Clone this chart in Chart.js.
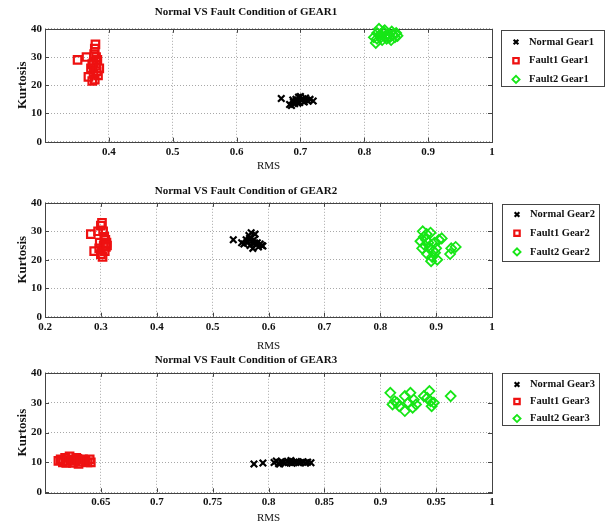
<!DOCTYPE html>
<html>
<head>
<meta charset="utf-8">
<script src="https://cdn.jsdelivr.net/npm/chart.js@4.4.0/dist/chart.umd.min.js"></script>
<style>
  html, body { margin: 0; padding: 0; background: #fff; }
  #wrap { position: relative; width: 606px; height: 525px; overflow: hidden; }
  #wrap canvas { position: absolute; left: 0; }
</style>
</head>
<body>
<div id="wrap">
  <canvas id="gear1" width="606" height="175" style="top:0"></canvas>
  <canvas id="gear2" width="606" height="178" style="top:175px"></canvas>
  <canvas id="gear3" width="606" height="175" style="top:350px"></canvas>
</div>
<script>
// DATA
const kurtTicks = [0, 10, 20, 30, 40];

// GEAR1
const g1RmsTicks = [0.4, 0.5, 0.6, 0.7, 0.8, 0.9, 1];
const g1NormalRms = [0.670, 0.683, 0.686, 0.688, 0.689, 0.691, 0.693, 0.695, 0.696, 0.697, 0.699, 0.700, 0.702, 0.704, 0.706, 0.708, 0.710, 0.712, 0.715, 0.720];
const g1NormalKurt = [15.3, 13.2, 12.8, 14.8, 14.0, 13.5, 15.0, 14.2, 13.6, 15.8, 13.9, 16.0, 14.6, 15.2, 14.1, 15.5, 14.8, 14.3, 15.0, 14.4];
const g1Fault1Rms = [0.351, 0.365, 0.368, 0.372, 0.374, 0.374, 0.376, 0.376, 0.377, 0.378, 0.378, 0.379, 0.380, 0.380, 0.381, 0.382, 0.383, 0.385];
const g1Fault1Kurt = [29.0, 30.0, 23.0, 26.0, 21.5, 27.5, 28.0, 24.0, 31.0, 33.0, 22.0, 34.5, 27.0, 30.0, 25.0, 29.0, 23.5, 26.0];
const g1Fault2Rms = [0.815, 0.818, 0.820, 0.820, 0.823, 0.825, 0.826, 0.828, 0.830, 0.832, 0.833, 0.835, 0.838, 0.840, 0.842, 0.843, 0.845, 0.848, 0.850, 0.852];
const g1Fault2Kurt = [37.0, 35.0, 38.5, 36.5, 40.0, 38.0, 37.0, 36.0, 39.0, 39.5, 37.5, 36.5, 38.0, 37.0, 36.0, 39.0, 38.0, 37.0, 38.5, 37.5];

// GEAR2
const g2RmsTicks = [0.2, 0.3, 0.4, 0.5, 0.6, 0.7, 0.8, 0.9, 1];
const g2NormalRms = [0.537, 0.552, 0.556, 0.560, 0.562, 0.565, 0.566, 0.567, 0.569, 0.570, 0.572, 0.574, 0.575, 0.576, 0.578, 0.580, 0.582, 0.585, 0.588, 0.590];
const g2NormalKurt = [27.0, 26.0, 25.5, 27.0, 26.0, 28.5, 27.5, 25.0, 29.5, 26.5, 24.0, 27.0, 26.0, 29.0, 25.5, 26.0, 24.5, 25.5, 25.0, 24.8];
const g2Fault1Rms = [0.282, 0.288, 0.295, 0.297, 0.298, 0.300, 0.300, 0.302, 0.303, 0.304, 0.305, 0.306, 0.307, 0.308, 0.309, 0.310, 0.311];
const g2Fault1Kurt = [29.0, 23.0, 30.0, 24.0, 26.0, 32.0, 22.0, 33.0, 21.0, 30.0, 25.0, 28.0, 23.0, 27.0, 24.5, 26.0, 25.0];
const g2Fault2Rms = [0.872, 0.875, 0.876, 0.878, 0.880, 0.882, 0.883, 0.884, 0.886, 0.888, 0.890, 0.891, 0.893, 0.895, 0.897, 0.898, 0.900, 0.902, 0.905, 0.910, 0.925, 0.927, 0.935];
const g2Fault2Kurt = [26.5, 24.0, 30.0, 28.0, 25.0, 27.0, 29.0, 22.0, 26.0, 24.0, 29.5, 19.5, 21.0, 23.0, 26.0, 22.5, 24.0, 20.0, 27.0, 27.5, 22.0, 24.0, 24.5];

// GEAR3
const g3RmsTicks = [0.65, 0.7, 0.75, 0.8, 0.85, 0.9, 0.95, 1];
const g3NormalRms = [0.787, 0.795, 0.805, 0.807, 0.809, 0.810, 0.811, 0.813, 0.815, 0.817, 0.819, 0.820, 0.821, 0.823, 0.825, 0.827, 0.829, 0.831, 0.833, 0.835, 0.838];
const g3NormalKurt = [9.5, 9.8, 10.0, 10.5, 9.6, 9.5, 10.2, 10.0, 9.8, 10.4, 10.0, 10.6, 9.7, 10.1, 10.3, 9.9, 10.0, 10.2, 9.8, 10.1, 9.9];
const g3Fault1Rms = [0.612, 0.614, 0.616, 0.618, 0.619, 0.620, 0.622, 0.624, 0.625, 0.627, 0.628, 0.629, 0.630, 0.632, 0.634, 0.636, 0.638, 0.640, 0.641];
const g3Fault1Kurt = [10.5, 11.0, 10.0, 11.5, 9.8, 10.5, 12.0, 11.0, 9.8, 10.5, 11.5, 11.2, 9.5, 10.2, 11.0, 10.5, 10.0, 11.0, 10.0];
const g3Fault2Rms = [0.909, 0.911, 0.913, 0.915, 0.917, 0.922, 0.922, 0.925, 0.927, 0.929, 0.930, 0.932, 0.939, 0.942, 0.944, 0.945, 0.946, 0.948, 0.963];
const g3Fault2Kurt = [33.3, 29.4, 30.5, 30.0, 28.8, 32.2, 27.2, 30.0, 33.3, 28.3, 31.0, 29.4, 32.2, 31.6, 33.9, 30.5, 28.8, 30.0, 32.2];

const SERIF = "'Liberation Serif', 'Times New Roman', serif";

// marker looks, MATLAB-ish
const normalStyle = { pointStyle: "crossRot", pointRadius: 4.6, pointBorderWidth: 2.2, borderColor: "#000", backgroundColor: "#000" };
const fault1Style = { pointStyle: "rect", pointRadius: 5.3, pointBorderWidth: 2.2, borderColor: "#ee1111", backgroundColor: "rgba(0,0,0,0)" };
const fault2Style = { pointStyle: "rectRot", pointRadius: 5, pointBorderWidth: 1.8, borderColor: "#16e616", backgroundColor: "rgba(0,0,0,0)" };

function points(xs, ys) {
  return xs.map((x, i) => ({ x, y: ys[i] }));
}

// box around plot area + small inward ticks
const axesBox = {
  id: "axesBox",
  beforeDatasetsDraw(chart) {
    const { ctx, chartArea: a, scales } = chart;
    ctx.save();
    ctx.strokeStyle = "#444";
    ctx.lineWidth = 1;
    ctx.setLineDash([]);
    ctx.strokeRect(Math.round(a.left) + 0.5, Math.round(a.top) + 0.5, Math.round(a.right - a.left), Math.round(a.bottom - a.top));
    ctx.beginPath();
    scales.x.ticks.forEach((t) => {
      const px = Math.round(scales.x.getPixelForValue(t.value)) + 0.5;
      ctx.moveTo(px, a.bottom); ctx.lineTo(px, a.bottom - 4);
      ctx.moveTo(px, a.top); ctx.lineTo(px, a.top + 4);
    });
    scales.y.ticks.forEach((t) => {
      const py = Math.round(scales.y.getPixelForValue(t.value)) + 0.5;
      ctx.moveTo(a.left, py); ctx.lineTo(a.left + 4, py);
      ctx.moveTo(a.right, py); ctx.lineTo(a.right - 4, py);
    });
    ctx.stroke();
    ctx.restore();
  },
};

// MATLAB style boxed legend to the right of the axes
const boxLegend = {
  id: "boxLegend",
  afterDraw(chart, args, opts) {
    const { ctx } = chart;
    ctx.save();
    ctx.fillStyle = "#fff";
    ctx.fillRect(opts.x, opts.y, opts.w, opts.h);
    ctx.strokeStyle = "#444";
    ctx.lineWidth = 1;
    ctx.strokeRect(opts.x + 0.5, opts.y + 0.5, opts.w, opts.h);
    chart.data.datasets.forEach((ds, i) => {
      const y = opts.firstRow + i * opts.rowStep;
      ctx.strokeStyle = ds.borderColor;
      ctx.fillStyle = ds.backgroundColor;
      ctx.lineWidth = ds.pointBorderWidth;
      Chart.helpers.drawPoint(ctx, {
        pointStyle: ds.pointStyle,
        radius: ds.pointRadius * 0.72,
        rotation: 0,
        borderWidth: ds.pointBorderWidth,
      }, opts.x + 15, y);
      ctx.fillStyle = "#111";
      ctx.font = "bold 10.5px " + SERIF;
      ctx.textBaseline = "middle";
      ctx.textAlign = "left";
      ctx.fillText(ds.label, opts.x + 28, y);
    });
    ctx.restore();
  },
};

function makeChart(id, c) {
  const axisFont = { family: SERIF, size: 11, weight: "bold" };
  new Chart(document.getElementById(id), {
    type: "scatter",
    data: {
      datasets: [
        { label: c.names[0], data: points(c.normal[0], c.normal[1]), ...normalStyle, clip: false },
        { label: c.names[1], data: points(c.fault1[0], c.fault1[1]), ...fault1Style, clip: false },
        { label: c.names[2], data: points(c.fault2[0], c.fault2[1]), ...fault2Style, clip: false },
      ],
    },
    options: {
      responsive: false,
      animation: false,
      events: [],
      layout: { padding: { left: 0, right: 114, top: 0, bottom: 0 } },
      plugins: {
        legend: { display: false },
        tooltip: { enabled: false },
        title: {
          display: true,
          text: c.title,
          color: "#111",
          font: axisFont,
          padding: c.titlePad,
        },
        boxLegend: c.legend,
      },
      scales: {
        x: {
          type: "linear",
          min: c.xMin,
          max: 1,
          afterBuildTicks: (s) => { s.ticks = c.xTicks.map((v) => ({ value: v })); },
          afterFit: (s) => { s.height = c.xHeight; },
          grid: { color: "#a8a8a8", lineWidth: 1, drawTicks: false },
          border: { display: false, dash: [1, 2] },
          ticks: { color: "#111", font: axisFont, padding: 3.4, maxRotation: 0, autoSkip: false, callback: (v) => String(+(+v).toFixed(2)) },
          title: { display: true, text: "RMS", color: "#111", font: { family: SERIF, size: 11 }, padding: { top: 0, bottom: c.rmsPad } },
        },
        y: {
          min: 0,
          max: 40,
          afterBuildTicks: (s) => { s.ticks = kurtTicks.map((v) => ({ value: v })); },
          afterFit: (s) => { s.width = 45; },
          grid: { color: "#a8a8a8", lineWidth: 1, drawTicks: false },
          border: { display: false, dash: [1, 2] },
          ticks: { color: "#111", font: axisFont, padding: 3 },
          title: { display: true, text: "Kurtosis", color: "#111", font: { family: SERIF, size: 13, weight: "bold" }, padding: { top: 15, bottom: 0 } },
        },
      },
    },
    plugins: [axesBox, boxLegend],
  });
}

makeChart("gear1", {
  title: "Normal VS Fault Condition of GEAR1",
  names: ["Normal Gear1", "Fault1 Gear1", "Fault2 Gear1"],
  normal: [g1NormalRms, g1NormalKurt],
  fault1: [g1Fault1Rms, g1Fault1Kurt],
  fault2: [g1Fault2Rms, g1Fault2Kurt],
  xMin: 0.3,
  xTicks: g1RmsTicks,
  titlePad: { top: 5.6, bottom: 10 },
  xHeight: 33.3,
  rmsPad: 1.8,
  legend: { x: 501, y: 30, w: 103, h: 56, firstRow: 42, rowStep: 18.7 },
});

makeChart("gear2", {
  title: "Normal VS Fault Condition of GEAR2",
  names: ["Normal Gear2", "Fault1 Gear2", "Fault2 Gear2"],
  normal: [g2NormalRms, g2NormalKurt],
  fault1: [g2Fault1Rms, g2Fault1Kurt],
  fault2: [g2Fault2Rms, g2Fault2Kurt],
  xMin: 0.2,
  xTicks: g2RmsTicks,
  titlePad: { top: 9.4, bottom: 5.2 },
  xHeight: 36.3,
  rmsPad: 0.3,
  legend: { x: 502, y: 29, w: 97, h: 57, firstRow: 39.5, rowStep: 18.7 },
});

makeChart("gear3", {
  title: "Normal VS Fault Condition of GEAR3",
  names: ["Normal Gear3", "Fault1 Gear3", "Fault2 Gear3"],
  normal: [g3NormalRms, g3NormalKurt],
  fault1: [g3Fault1Rms, g3Fault1Kurt],
  fault2: [g3Fault2Rms, g3Fault2Kurt],
  xMin: 0.6,
  xTicks: g3RmsTicks,
  titlePad: { top: 3.6, bottom: 6 },
  xHeight: 32.7,
  rmsPad: 0,
  legend: { x: 502, y: 23, w: 97, h: 52, firstRow: 34.5, rowStep: 17 },
});
</script>
</body>
</html>
